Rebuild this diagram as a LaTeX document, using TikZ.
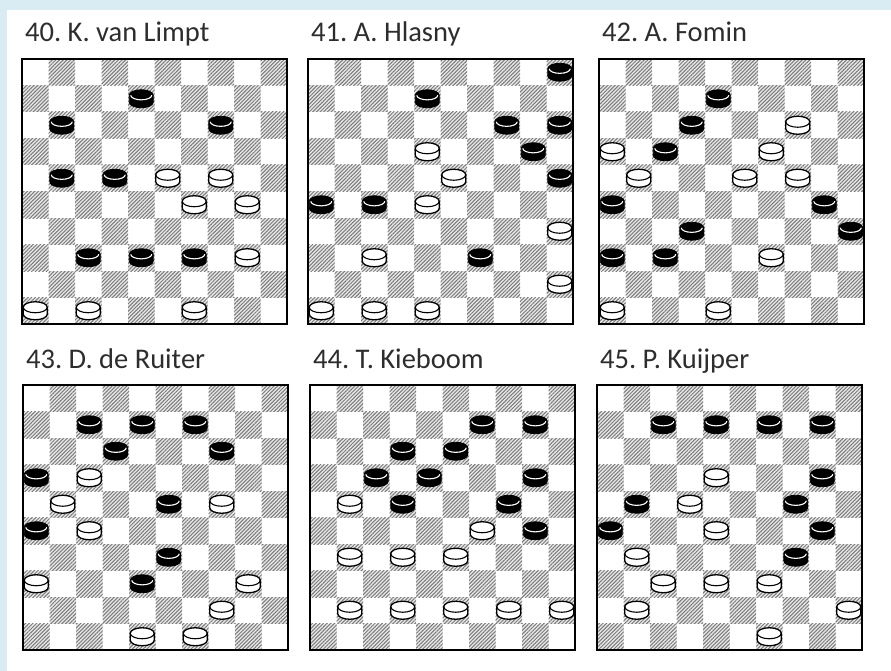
\documentclass[tikz,border=0pt]{standalone}
\usepackage{fontspec}
\setmainfont{Carlito}
\usetikzlibrary{patterns.meta}
\definecolor{FrameBlue}{RGB}{218,236,243}
\definecolor{TitleGray}{RGB}{45,45,45}
\frenchspacing

\tikzset{
  darksq/.style={preaction={fill=black!9}, pattern={Lines[angle=45,distance=2.6pt,line width=1pt]}, pattern color=black!52},
  boardline/.style={line width=2.2pt},
  blackman/.style={fill=black, draw=black, line width=0.8pt},
  whiteman/.style={fill=white, draw=black, line width=1.3pt},
  rim/.style={line width=1.1pt},
  title/.style={anchor=base west, inner sep=0pt, text=TitleGray, font=\fontsize{28.5}{30}\selectfont}
}

\begin{document}
\begin{tikzpicture}[x=1pt, y=-1pt]
  \useasboundingbox (0,0) rectangle (891,671);
  \fill[FrameBlue] (0,0) rectangle (891,671);
  \fill[white] (7,10) rectangle (891,671);
  % one diagram per entry: left/top/number/black men/white men/name
  \foreach \bx/\by/\n/\blacks/\whites/\who in {
      22/59/40/{1/4,2/1,2/7,4/1,4/3,7/2,7/4,7/6}/{4/5,4/7,5/6,5/8,7/8,9/0,9/2,9/6}/K. van Limpt,
      308/59/41/{0/9,1/4,2/7,2/9,3/8,4/9,5/0,5/2,7/6}/{3/4,4/5,5/4,6/9,7/2,8/9,9/0,9/2,9/4}/A. Hlasny,
      599/59/42/{1/4,2/3,3/2,5/0,5/8,6/3,6/9,7/0,7/2}/{2/7,3/0,3/6,4/1,4/5,4/7,7/6,9/0,9/4}/A. Fomin,
      23/385/43/{1/2,1/4,1/6,2/3,2/7,3/0,4/5,5/0,6/5,7/4}/{3/2,4/1,4/7,5/2,7/0,7/8,8/7,9/4,9/6}/D. de Ruiter,
      310/385/44/{1/6,1/8,2/3,2/5,3/2,3/4,3/8,4/3,4/7,5/8}/{4/1,5/6,6/1,6/3,6/5,8/1,8/3,8/5,8/7,8/9}/T. Kieboom,
      597/385/45/{1/2,1/4,1/6,1/8,3/8,4/1,4/7,5/0,5/8,6/7}/{3/4,4/3,5/4,6/1,7/2,7/4,7/6,8/1,8/9,9/6}/P. Kuijper} {
    \node[title] (title-\n) at (\bx+3, \by-17) {\n. \who};
    % hatched squares
    \foreach \r in {0,...,9}
      \foreach \c in {1,3,...,9}
        \fill[darksq] ({\bx+(\c-mod(\r,2))*26.5}, {\by+\r*26.5}) rectangle ++(26.5,26.5);
    \draw[boardline] (\bx,\by) rectangle ++(265,265);
    % men
    \foreach \r/\c in \blacks {
      \filldraw[blackman] ({\bx+(\c+0.5)*26.5-12}, {\by+(\r+0.5)*26.5-3.5})
        arc[start angle=180, end angle=360, x radius=12, y radius=5.5] -- ++(0,7)
        arc[start angle=0, end angle=180, x radius=12, y radius=5.5] -- cycle;
      \draw[rim, white] ({\bx+(\c+0.5)*26.5+10.5}, {\by+(\r+0.5)*26.5-3.5})
        arc[start angle=0, end angle=180, x radius=10.5, y radius=4.6];
    }
    \foreach \r/\c in \whites {
      \filldraw[whiteman] ({\bx+(\c+0.5)*26.5-12}, {\by+(\r+0.5)*26.5-3.5})
        arc[start angle=180, end angle=360, x radius=12, y radius=5.5] -- ++(0,7)
        arc[start angle=0, end angle=180, x radius=12, y radius=5.5] -- cycle;
      \draw[rim] ({\bx+(\c+0.5)*26.5+12}, {\by+(\r+0.5)*26.5-3.5})
        arc[start angle=0, end angle=180, x radius=12, y radius=5.5];
    }
  }
\end{tikzpicture}
\end{document}
